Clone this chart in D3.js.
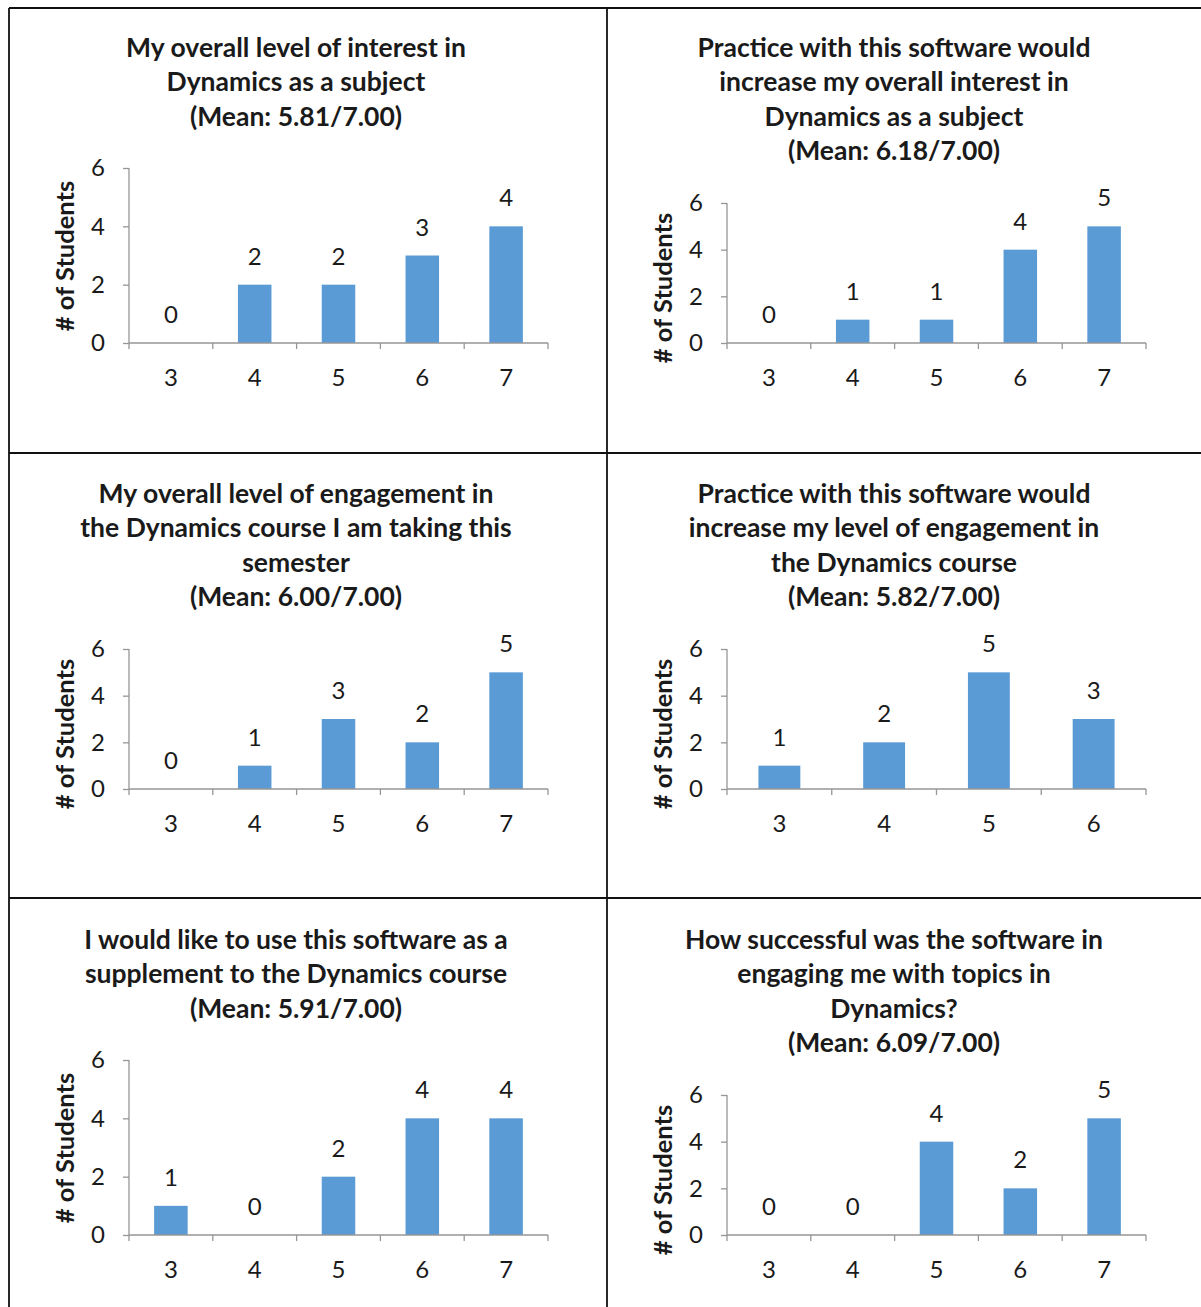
<!DOCTYPE html>
<html><head><meta charset="utf-8">
<script src="https://cdn.jsdelivr.net/npm/d3@7"></script>
<style>body{margin:0;background:#fff}svg{display:block}</style>
</head><body>
<script>
// ---- data ----
const categories5 = ["3","4","5","6","7"];
const categories4 = ["3","4","5","6"];
const yTicks = [0,2,4,6];
const titles = [
  ["My overall level of interest in","Dynamics as a subject"],
  ["Practice with this software would","increase my overall interest in","Dynamics as a subject"],
  ["My overall level of engagement in","the Dynamics course I am taking this","semester"],
  ["Practice with this software would","increase my level of engagement in","the Dynamics course"],
  ["I would like to use this software as a","supplement to the Dynamics course"],
  ["How successful was the software in","engaging me with topics in","Dynamics?"]
];
const means = ["5.81","6.18","6.00","5.82","5.91","6.09"];
const values1 = [0,2,2,3,4];
const values2 = [0,1,1,4,5];
const values3 = [0,1,3,2,5];
const values4 = [1,2,5,3];
const values5 = [1,0,2,4,4];
const values6 = [0,0,4,2,5];
const panelValues = [values1,values2,values3,values4,values5,values6];
const panelCats = [categories5,categories5,categories5,categories4,categories5,categories5];

// ---- drawing ----
const W = 1201, H = 1307;
const svg = d3.select("body").append("svg").attr("width",W).attr("height",H);
svg.append("rect").attr("width",W).attr("height",H).attr("fill","#fff");

const FONT = "Lato, 'Open Sans', sans-serif";
const colX = [0, 598];
const rowY = [0, 446, 892];
const barColor = "#5B9BD5";
const axisColor = "#969696";
const textColor = "#1a1a1a";

panelValues.forEach((vals, i) => {
  const ox = colX[i % 2], oy = rowY[Math.floor(i / 2)];
  const g = svg.append("g").attr("transform", `translate(${ox},${oy})`);
  const lines = titles[i].concat([`(Mean: ${means[i]}/7.00)`]);
  const nLines = lines.length;
  g.selectAll("text.title").data(lines).join("text")
    .attr("x", 296).attr("y", (d, k) => 57 + k * 34.4)
    .attr("text-anchor", "middle")
    .attr("font-family", FONT).attr("font-weight", 700).attr("font-size", 26.5)
    .attr("fill", textColor).text(d => d);

  const top = nLines === 3 ? 168 : 203;
  const bottom = 343;
  const x = d3.scaleBand().domain(panelCats[i]).range([129, 548]).paddingInner(0).paddingOuter(0);
  const y = d3.scaleLinear().domain([0, 6]).range([bottom, top]);
  const barW = x.bandwidth() * 0.4;

  // bars
  g.selectAll("rect.bar").data(vals).join("rect")
    .attr("x", (d, k) => x(panelCats[i][k]) + (x.bandwidth() - barW) / 2)
    .attr("y", d => y(d)).attr("width", barW).attr("height", d => bottom - y(d))
    .attr("fill", barColor);

  // y axis
  const ya = g.append("g").attr("transform", "translate(129,0)")
    .call(d3.axisLeft(y).tickValues(yTicks).tickFormat(d3.format("d")).tickSize(6).tickPadding(18));
  // x axis
  const xa = g.append("g").attr("transform", `translate(0,${bottom})`)
    .call(d3.axisBottom(x).tickSize(0).tickPadding(26));
  // x tick marks at category boundaries
  const bounds = panelCats[i].map(c => x(c)).concat([548]);
  g.selectAll("line.xt").data(bounds).join("line")
    .attr("x1", d => d).attr("x2", d => d)
    .attr("y1", bottom).attr("y2", bottom + 6)
    .attr("stroke", axisColor).attr("stroke-width", 1.3);

  [ya, xa].forEach(a => {
    a.select(".domain").attr("stroke", axisColor).attr("stroke-width", 1.3);
    a.selectAll(".tick line").attr("stroke", axisColor).attr("stroke-width", 1.3);
    a.selectAll(".tick text").attr("font-family", FONT).attr("font-size", 24).attr("fill", textColor);
  });
  xa.select(".domain").attr("d", "M129,0H548");
  ya.select(".domain").attr("d", `M0,${bottom}V${top}`);

  // data labels
  g.selectAll("text.lbl").data(vals).join("text")
    .attr("x", (d, k) => x(panelCats[i][k]) + x.bandwidth() / 2)
    .attr("y", d => y(d) - 20)
    .attr("text-anchor", "middle")
    .attr("font-family", FONT).attr("font-size", 24).attr("fill", textColor)
    .text(d => d);

  // y axis title
  const cy = nLines === 3 ? 256 : 288;
  g.append("text")
    .attr("transform", `translate(74,${cy}) rotate(-90)`)
    .attr("text-anchor", "middle")
    .attr("font-family", FONT).attr("font-weight", 700).attr("font-size", 25.5)
    .attr("fill", textColor).text("# of Students");
});

// table borders
const borderLines = [
  [9, 8, 1201, 8], [9, 8, 9, 1307], [607, 8, 607, 1307],
  [9, 453, 1201, 453], [9, 898, 1201, 898]
];
svg.selectAll("line.border").data(borderLines).join("line")
  .attr("x1", d => d[0]).attr("y1", d => d[1]).attr("x2", d => d[2]).attr("y2", d => d[3])
  .attr("stroke", "#111").attr("stroke-width", 1.8);
</script>
</body></html>
